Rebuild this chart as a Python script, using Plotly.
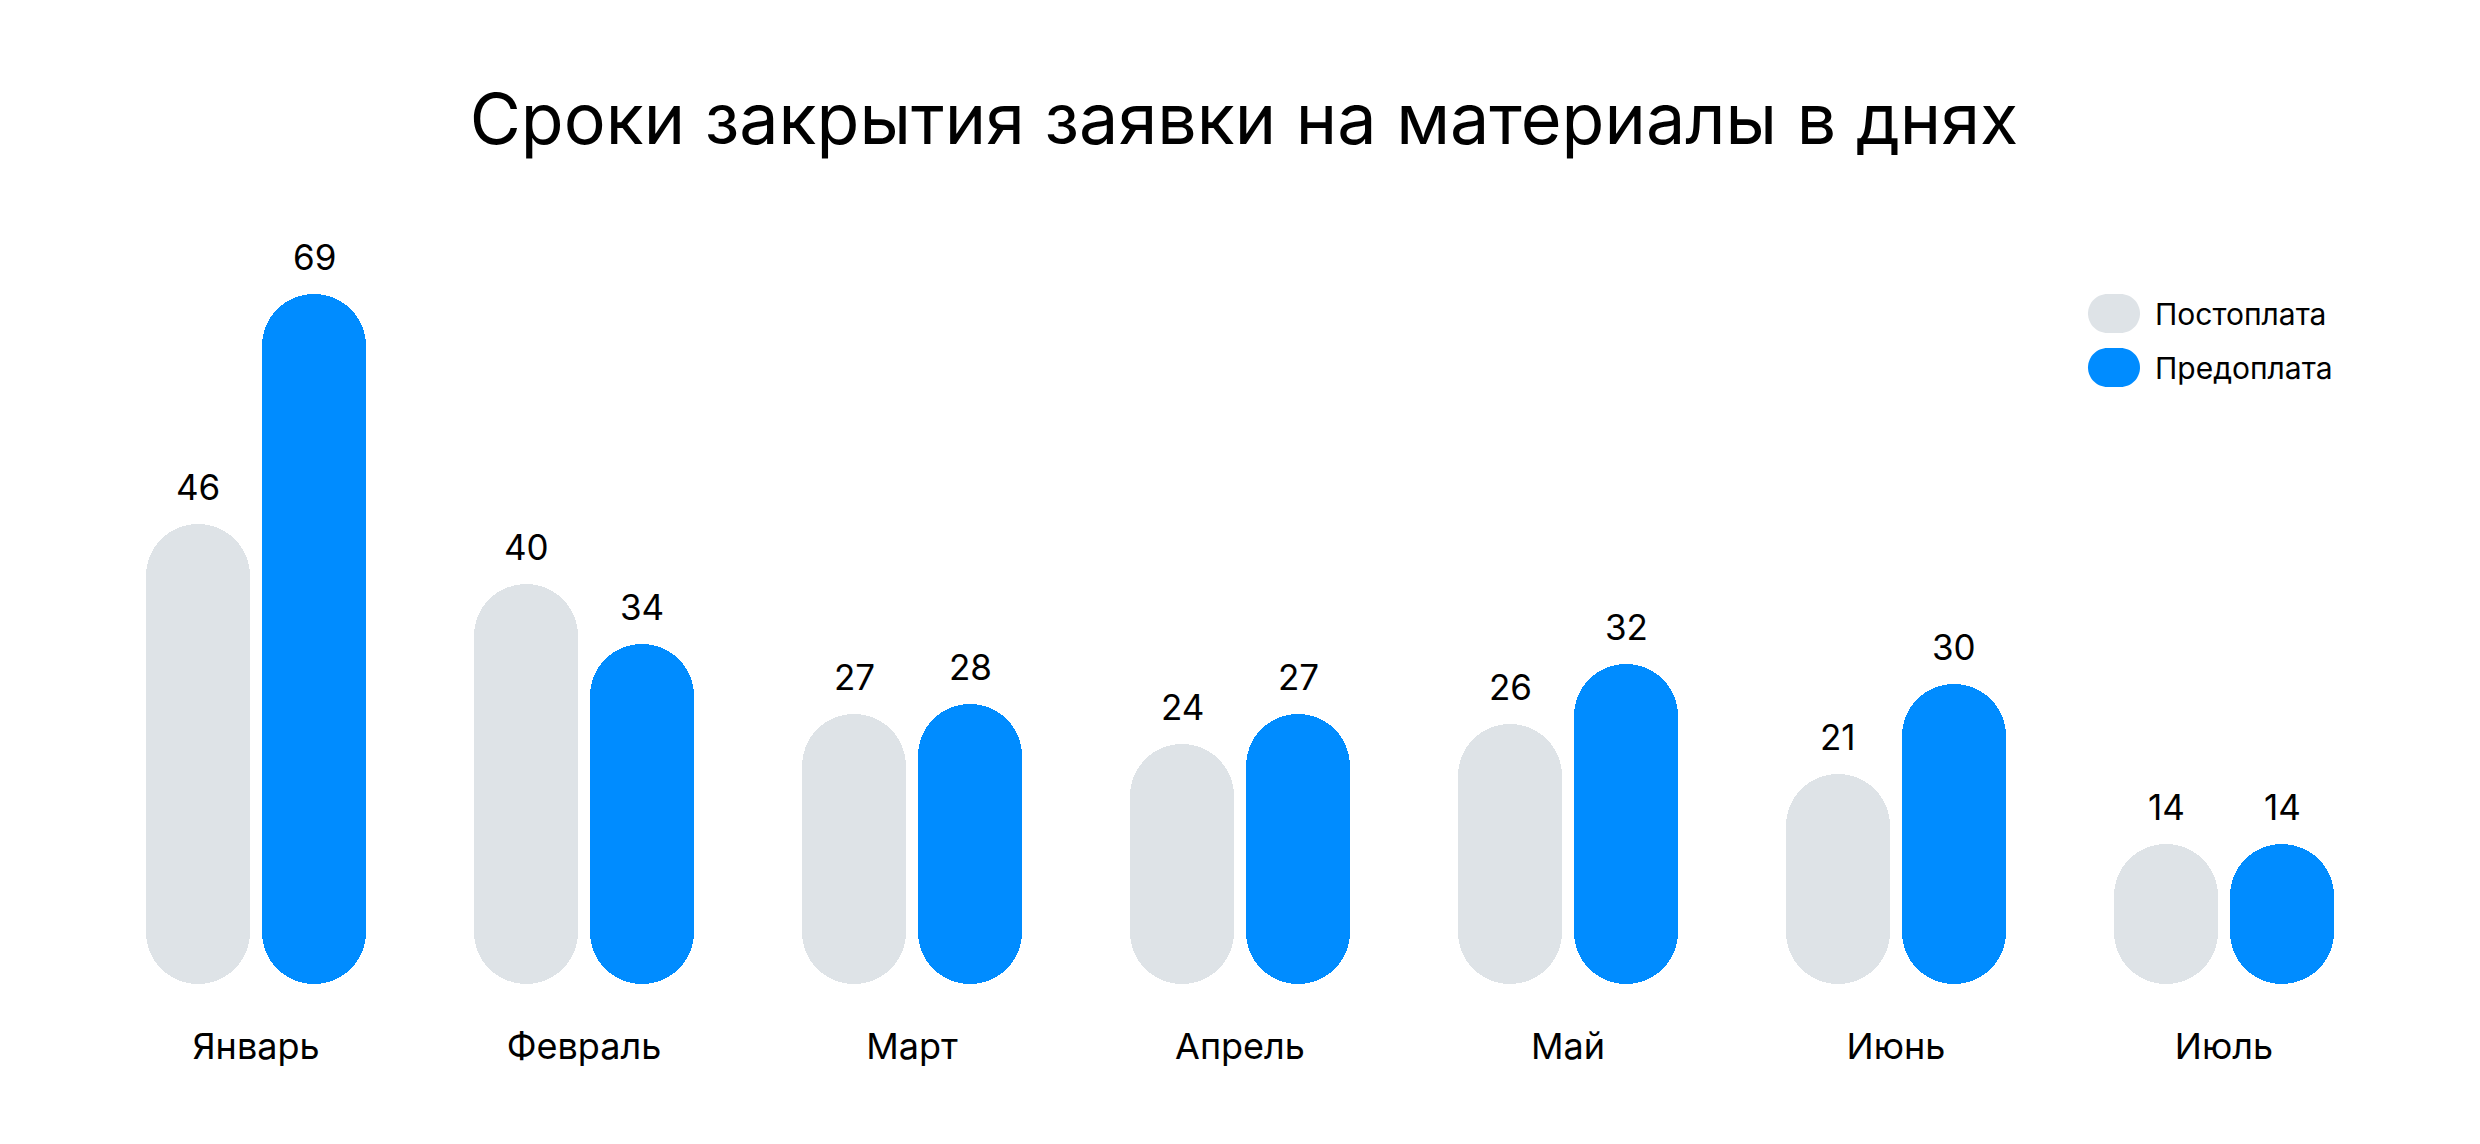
import plotly.graph_objects as go

months = ["Январь", "Февраль", "Март", "Апрель", "Май", "Июнь", "Июль"]
postpay = [46, 40, 27, 24, 26, 21, 14]
prepay = [69, 34, 28, 27, 32, 30, 14]
series_names = ["Постоплата", "Предоплата"]
title_text = "Сроки закрытия заявки на материалы в днях"

GRAY = "#DEE3E7"
BLUE = "#008CFF"
FONT = "Inter"

PAGE_OFF = 8  # browser body margin
W, H = 2480 - PAGE_OFF, 1144 - PAGE_OFF
ML, MT = 92 - PAGE_OFF, 184 - PAGE_OFF
PW, PH = 2296, 800
MR = W - ML - PW
MB = H - MT - PH
CAT = PW / len(months)  # px per category
BW = 104 / CAT
OFF = {0: -110 / CAT, 1: 6 / CAT}

xs = list(range(len(months)))
fig = go.Figure()

for k, (vals, color) in enumerate([(postpay, GRAY), (prepay, BLUE)]):
    fig.add_trace(go.Bar(
        x=xs, y=vals, base=[0] * len(vals),
        width=BW, offset=OFF[k], marker=dict(color=color, line=dict(width=0), cornerradius=52),
        name=series_names[k], showlegend=False, hoverinfo="skip"))
    for i, v in enumerate(vals):
        fig.add_annotation(x=i + OFF[k] + BW / 2, y=v, text=str(v), showarrow=False,
                           xref="x", yref="y", yanchor="bottom", yshift=14,
                           font=dict(family=FONT, size=35, color="#000000"))

# legend drawn manually (pill markers); coordinates in screen px
def px2paper(px, py):
    return (px - PAGE_OFF - ML) / PW, (MT + PH - (py - PAGE_OFF)) / PH

def pill_path(x0, y0, x1, y1):
    r = (y1 - y0) / 2
    k = 0.5523 * r
    def P(x, y):
        a, b = px2paper(x, y)
        return f"{a:.6f},{b:.6f}"
    return (f"M {P(x0 + r, y0)} L {P(x1 - r, y0)} "
            f"C {P(x1 - r + k, y0)} {P(x1, y0 + r - k)} {P(x1, y0 + r)} "
            f"C {P(x1, y0 + r + k)} {P(x1 - r + k, y1)} {P(x1 - r, y1)} "
            f"L {P(x0 + r, y1)} "
            f"C {P(x0 + r - k, y1)} {P(x0, y0 + r + k)} {P(x0, y0 + r)} "
            f"C {P(x0, y0 + r - k)} {P(x0 + r - k, y0)} {P(x0 + r, y0)} Z")

legend_rows = [(294, 333, GRAY), (348, 387, BLUE)]
for name, (y0, y1, color) in zip(series_names, legend_rows):
    fig.add_shape(type="path", path=pill_path(2088, y0, 2140, y1), xref="paper", yref="paper",
                  fillcolor=color, line=dict(width=0), layer="above")
    lx, ly = px2paper(2153, (y0 + y1) / 2)
    fig.add_annotation(x=lx, y=ly, xref="paper", yref="paper", text=name, showarrow=False,
                       xanchor="left", yanchor="middle",
                       font=dict(family=FONT, size=30, color="#000000"))

fig.update_layout(
    width=W, height=H,
    margin=dict(l=ML, r=MR, t=MT, b=MB),
    paper_bgcolor="white", plot_bgcolor="white",
    barmode="overlay", bargap=0,
    title=dict(text=title_text, x=0.5, xanchor="center", y=1 - (119 - PAGE_OFF) / H, yanchor="middle",
               yref="container", font=dict(family=FONT, size=70, color="#000000")),
    xaxis=dict(range=[-0.5, len(months) - 0.5], tickmode="array", tickvals=xs, ticktext=months,
               showgrid=False, zeroline=False, showline=False, ticks="",
               tickfont=dict(family=FONT, size=36, color="#000000"), ticklabelstandoff=38),
    yaxis=dict(range=[0, 80], visible=False, showgrid=False, zeroline=False),
    showlegend=False,
)

fig.write_html("out.html")
